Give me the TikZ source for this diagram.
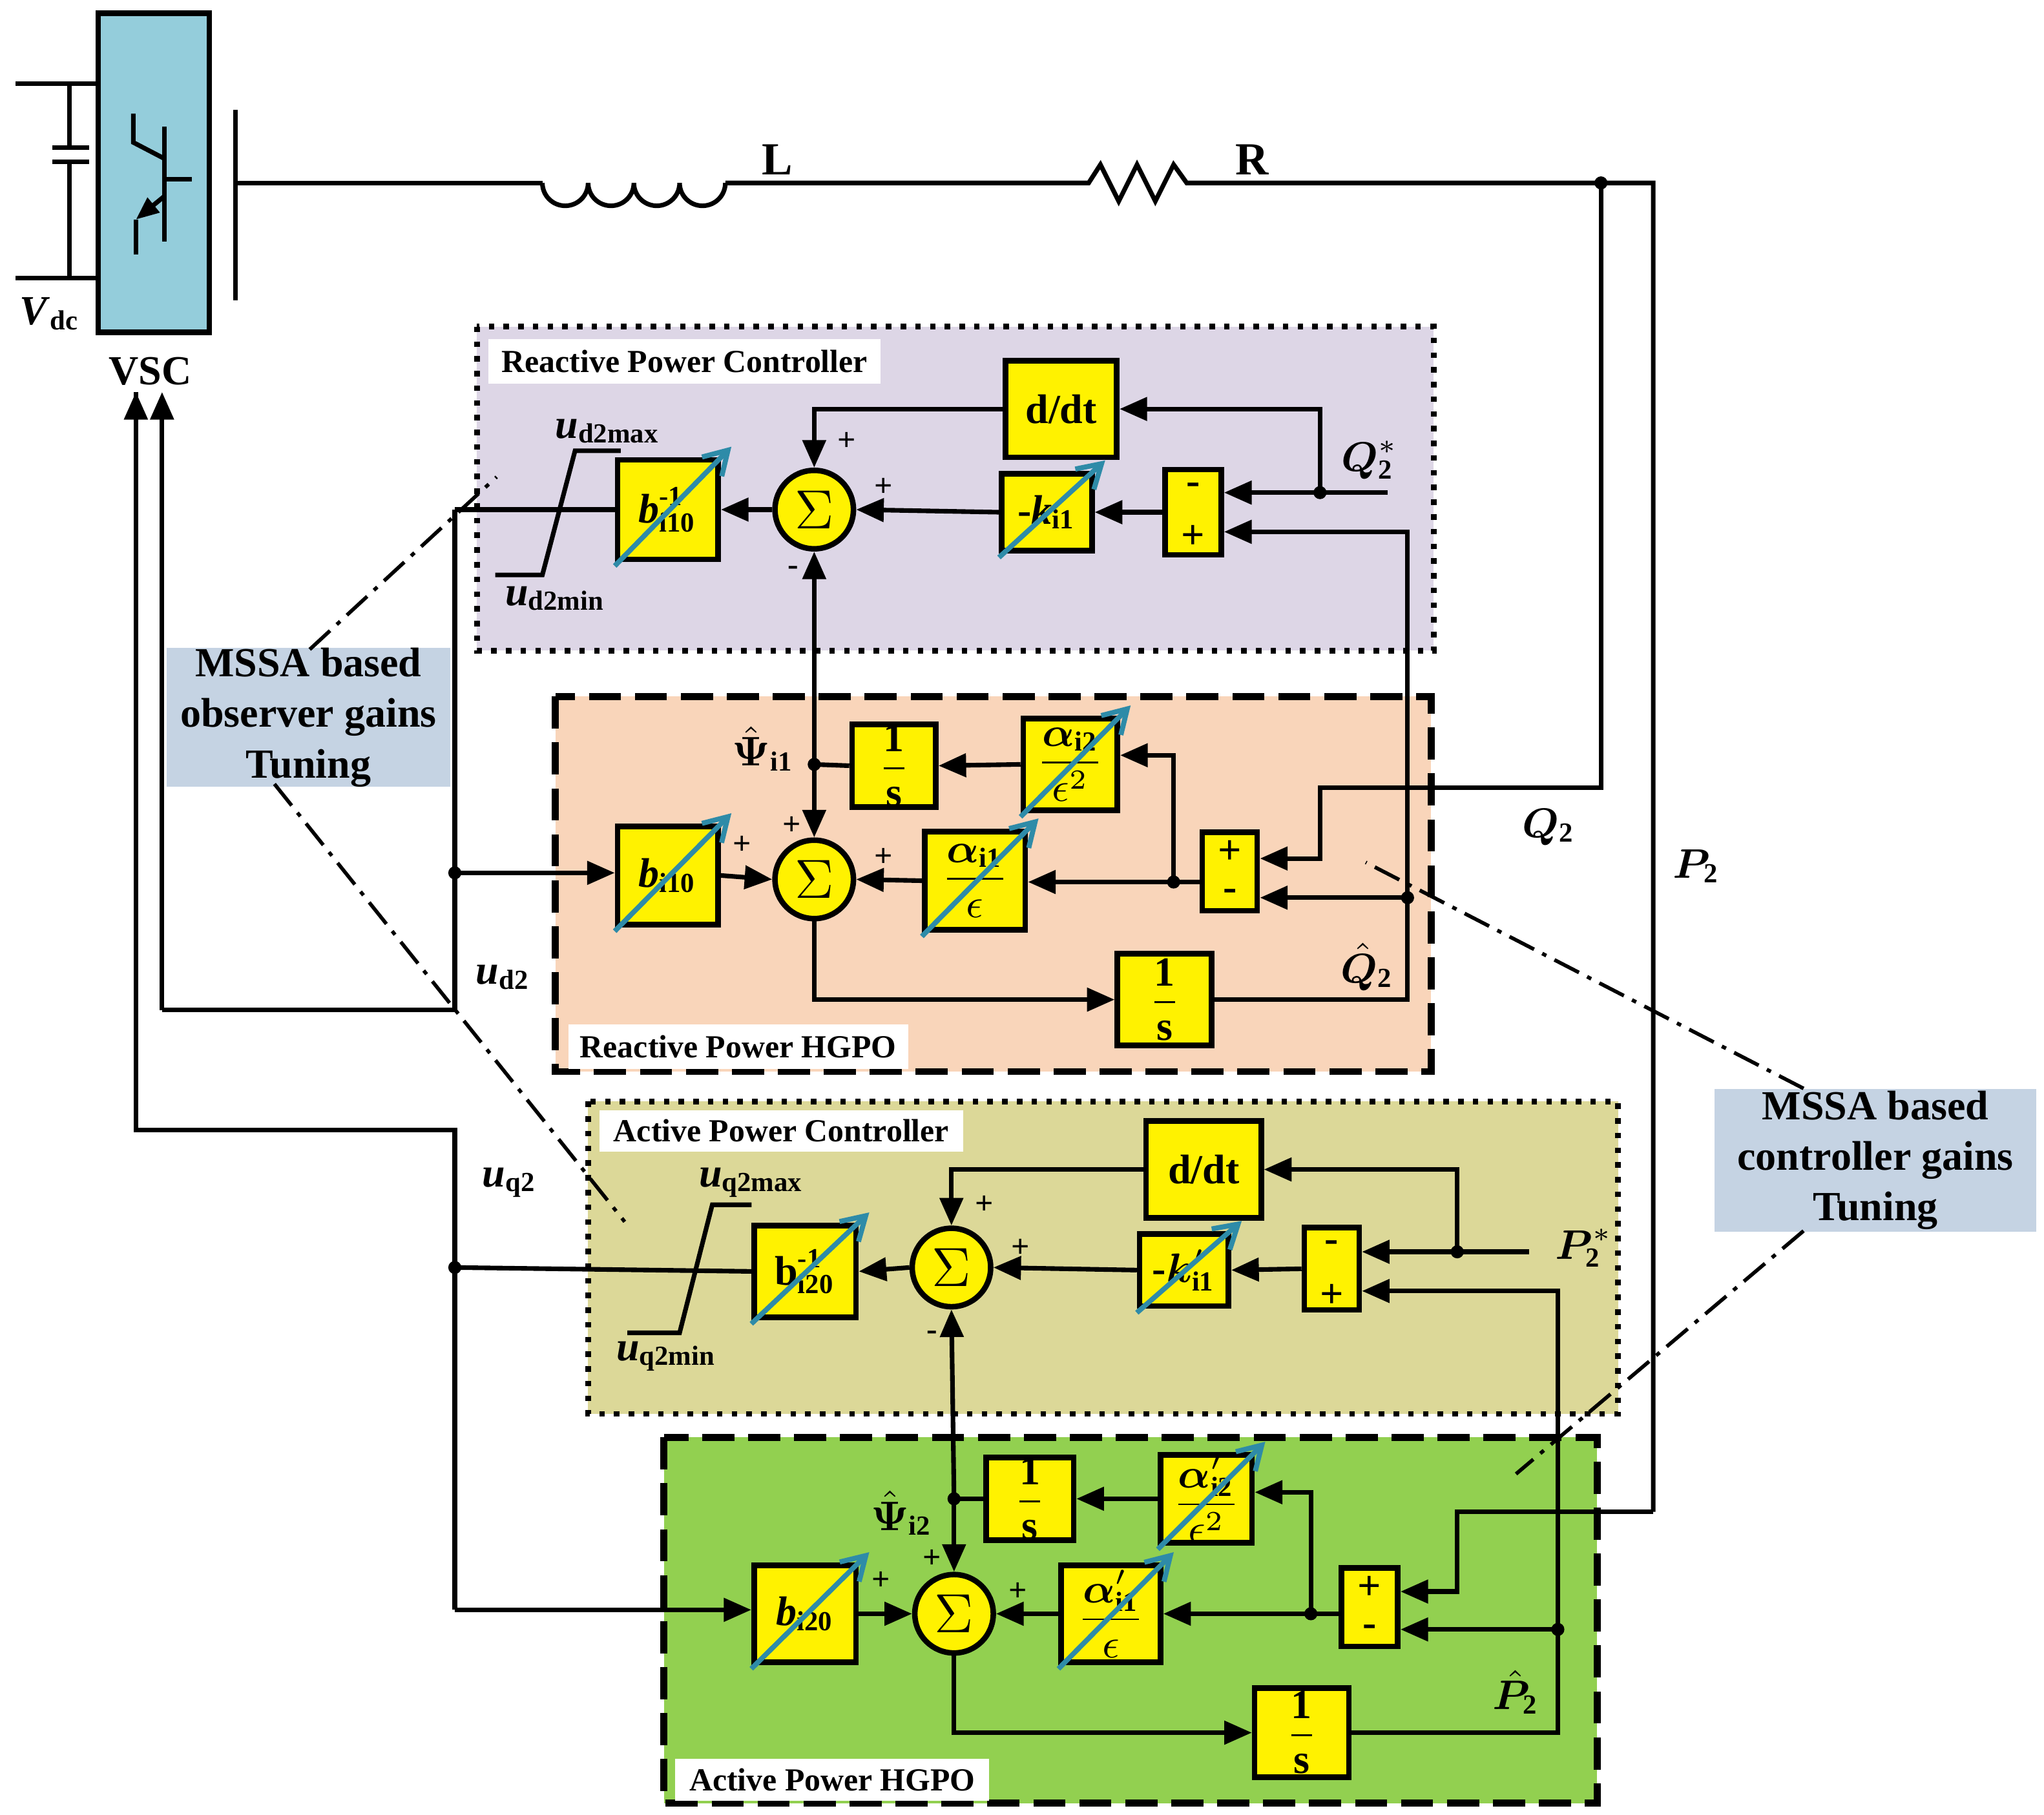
\documentclass[tikz,border=0pt]{standalone}
\usepackage{amsmath,bm}
\usepackage{fontspec}
\setmainfont{Liberation Serif}
\usetikzlibrary{arrows.meta,calc}
\definecolor{vsc}{HTML}{94CDDB}
\definecolor{rpc}{HTML}{DDD6E6}
\definecolor{rph}{HTML}{F9D5BA}
\definecolor{apc}{HTML}{DCD898}
\definecolor{aph}{HTML}{92D050}
\definecolor{mssa}{HTML}{C5D3E3}
\definecolor{tun}{HTML}{2E8BA8}
\begin{document}
\begin{tikzpicture}[x=0.01cm,y=-0.01cm,line width=1pt,
  >={Triangle[length=6pt,width=5pt]},
  blk/.style={draw,fill=yellow,line width=1.2pt,inner sep=0pt,font=\fontsize{9}{10}\bfseries},
  sm/.style={draw,fill=yellow,circle,line width=1.2pt,minimum size=0.6cm,inner sep=0pt,font=\fontsize{12}{12}\selectfont},
  tune/.style={draw=tun,line width=1.1pt,-{Straight Barb[length=5pt,width=6pt]}},
  lab/.style={font=\fontsize{9}{10}\bfseries},
  slab/.style={font=\fontsize{7}{8}\bfseries},
  boxlab/.style={fill=white,inner sep=2pt,font=\fontsize{7}{8}\bfseries},
  dd/.style={line width=0.8pt,dash pattern=on 6pt off 2pt on 1pt off 2pt}]
\useasboundingbox (0,0) rectangle (1564,1389);
% ---- background boxes
\draw[fill=rpc,line width=1.2pt,dotted] (365,250) rectangle (1097,498);
\draw[fill=rph,line width=1.5pt,dash pattern=on 7pt off 3pt] (425,533) rectangle (1095,820);
\draw[fill=apc,line width=1.2pt,dotted] (450,843) rectangle (1238,1082);
\draw[fill=aph,line width=1.5pt,dash pattern=on 7pt off 3pt] (508,1100) rectangle (1222,1380);
\node[boxlab,anchor=north west,minimum width=3cm,minimum height=0.34cm] (t1) at (372,258) {Reactive Power Controller};
\node[boxlab,anchor=south west,minimum width=2.6cm,minimum height=0.34cm] (t2) at (433,820) {Reactive Power HGPO};
\node[boxlab,anchor=north west,minimum width=2.78cm,minimum height=0.3cm] (t3) at (457,848) {Active Power Controller};
\node[boxlab,anchor=south west,minimum width=2.4cm,minimum height=0.32cm] (t4) at (515,1380) {Active Power HGPO};
% ---- VSC
\node[draw,fill=vsc,line width=1.2pt,minimum width=0.85cm,minimum height=2.44cm,anchor=north west] (vsc) at (73,8) {};
\draw (12,64) -- (73,64) (12,213) -- (73,213);
\draw (53,64) -- (53,113) (40,113) -- (68,113) (40,124) -- (68,124) (53,124) -- (53,213);
\draw (102,87) -- (102,109) -- (125,121);
\draw (126,97) -- (126,185);
\draw (126,137) -- (147,137);
\draw[-{Triangle[length=5pt,width=4pt]}] (126,150) -- (104,168);
\draw (104,168) -- (104,195);
\node[font=\fontsize{9}{10}\bfseries] (vdc) at (38,240) {\textit{V}\textsubscript{dc}};
\node[lab] (vsct) at (115,284) {VSC};
% ---- line
\draw (180,84) -- (180,230);
\coordinate (jq) at (1225,140);
\draw (180,140) -- (415,140);
\draw (415,140) arc(180:0:17.5) arc(180:0:17.5) arc(180:0:17.5) arc(180:0:17.5);
\draw (555,140) -- (833,140) -- (842,126) -- (856,154) -- (870,126) -- (884,154) -- (898,126) -- (908,140) -- (1265,140) -- (1265,1157);
\fill (jq) circle (5);
\node[lab,font=\fontsize{10}{10}\bfseries] (Lt) at (595,122) {L};
\node[lab,font=\fontsize{10}{10}\bfseries] (Rt) at (958,122) {R};
% ---- Reactive controller blocks
\node[blk,minimum width=0.85cm,minimum height=0.74cm] (ddt1) at (812,313) {d/dt};
\node[sm] (sum1) at (623,390) {$\Sigma$};
\node[blk,minimum width=0.77cm,minimum height=0.76cm] (binv1) at (511,390) {\textit{b}$^{\textbf{-1}}_{\textbf{i10}}$};
\node[blk,minimum width=0.69cm,minimum height=0.59cm] (k1) at (801,392) {-\textit{k}\textsubscript{i1}};
\node[blk,minimum width=0.43cm,minimum height=0.65cm] (mp1) at (913,392) {};
\node[lab] at (913,374) {-}; \node[lab] at (913,411) {+};
% ---- Reactive HGPO
\node[blk,minimum width=0.64cm,minimum height=0.62cm] (one1) at (684,586) {$\displaystyle\frac{\textbf{1}}{\textbf{s}}$};
\node[blk,minimum width=0.72cm,minimum height=0.70cm] (a2) at (819,585) {$\displaystyle\frac{\bm{\alpha}_{\textbf{i2}}}{\epsilon^{2}}$};
\node[blk,minimum width=0.77cm,minimum height=0.75cm] (bi10) at (511,670) {\textit{b}\textsubscript{i10}};
\node[sm] (sum2) at (623,673) {$\Sigma$};
\node[blk,minimum width=0.77cm,minimum height=0.75cm] (a1) at (746,674) {$\displaystyle\frac{\bm{\alpha}_{\textbf{i1}}}{\epsilon}$};
\node[blk,minimum width=0.42cm,minimum height=0.60cm] (pm1) at (941,667) {};
\node[lab] at (941,652) {+}; \node[lab] at (941,685) {-};
\node[blk,minimum width=0.72cm,minimum height=0.70cm] (one2) at (891,765) {$\displaystyle\frac{\textbf{1}}{\textbf{s}}$};
% ---- Active controller
\node[blk,minimum width=0.88cm,minimum height=0.74cm] (ddt2) at (921,895) {d/dt};
\node[sm] (sum3) at (728,970) {$\Sigma$};
\node[blk,minimum width=0.78cm,minimum height=0.70cm] (binv2) at (616,973) {b$^{\textbf{-1}}_{\textbf{i20}}$};
\node[blk,minimum width=0.68cm,minimum height=0.55cm] (k2) at (906,972) {-$\bm{k}'_{\textbf{i1}}$};
\node[blk,minimum width=0.42cm,minimum height=0.63cm] (mp2) at (1019,971) {};
\node[lab] at (1019,954) {-}; \node[lab] at (1019,992) {+};
% ---- Active HGPO
\node[blk,minimum width=0.67cm,minimum height=0.63cm] (one3) at (788,1147) {$\displaystyle\frac{\textbf{1}}{\textbf{s}}$};
\node[blk,minimum width=0.70cm,minimum height=0.67cm] (a3) at (923,1147) {$\displaystyle\frac{\bm{\alpha}'_{\textbf{i2}}}{\epsilon^{2}}$};
\node[blk,minimum width=0.78cm,minimum height=0.74cm] (bi20) at (616,1235) {\textit{b}\textsubscript{i20}};
\node[sm] (sum4) at (730,1235) {$\Sigma$};
\node[blk,minimum width=0.76cm,minimum height=0.74cm] (a4) at (850,1235) {$\displaystyle\frac{\bm{\alpha}'_{\textbf{i1}}}{\epsilon}$};
\node[blk,minimum width=0.43cm,minimum height=0.60cm] (pm2) at (1048,1230) {};
\node[lab] at (1048,1215) {+}; \node[lab] at (1048,1248) {-};
\node[blk,minimum width=0.72cm,minimum height=0.68cm] (one4) at (996,1326) {$\displaystyle\frac{\textbf{1}}{\textbf{s}}$};
% ---- tuning arrows
\foreach \n in {binv1,k1,a2,bi10,a1,binv2,k2,a3,bi20,a4}
  \draw[tune] ($(\n.south west)+(0,3)$) -- ($(\n.north east)+(8,-8)$);
% ---- reactive controller connections
\coordinate (dq1) at (1010,377);
\coordinate (qs) at (1062,377);
\draw[->] (qs) -- (mp1.east |- dq1);
\fill (dq1) circle (5);
\draw[->] (dq1) |- (ddt1.east);
\draw[->] (ddt1.west) -| (sum1.north);
\draw[->] (mp1.west) -- (k1.east);
\draw[->] (k1.west) -- (sum1.east);
\draw[->] (sum1.west) -- (binv1.east);
\coordinate (ud) at (348,390);
\draw (binv1.west) -- (ud);
\draw (379,440) -- (415,440) -- (440,345) -- (475,345);
\coordinate (q2h) at (1077,687);
\draw[->] (q2h) -- (1077,407) -- (mp1.east |- 0,407);
\node[slab] at (648,338) {+}; \node[slab] at (676,373) {+}; \node[slab] at (607,437) {-};
% ---- psi1
\coordinate (psi1) at (623,585);
\draw[->] (psi1) -- (sum1.south);
\draw[->] (psi1) -- (sum2.north);
\fill (psi1) circle (5);
\draw (one1.west) -- (psi1);
\draw[->] (a2.west) -- (one1.east);
\coordinate (d2) at (898,675);
\draw[->] (d2) |- (a2.east |- 0,578);
\draw[->] (pm1.west |- d2) -- (a1.east |- d2);
\fill (d2) circle (5);
\draw[->] (a1.west) -- (sum2.east);
\draw[->] (bi10.east) -- (sum2.west);
\draw[->] (sum2.south) |- (one2.west);
\draw (one2.east) -| (q2h);
\draw[->] (q2h) -- (pm1.east |- q2h);
\fill (q2h) circle (5);
\draw[->] (jq) -- (1225,603) -- (1010,603) -- (1010,657) -- (pm1.east |- 0,657);
\node[slab] at (606,632) {+}; \node[slab] at (568,647) {+}; \node[slab] at (676,656) {+};
% ---- u_d2 wiring
\coordinate (jd) at (348,668);
\draw (ud) -- (348,773) -- (124,773);
\draw[->] (124,773) -- (124,300);
\draw[->] (jd) -- (bi10.west |- jd);
\fill (jd) circle (5);
% ---- active controller connections
\coordinate (dp) at (1115,958);
\coordinate (ps) at (1170,958);
\draw[->] (ps) -- (mp2.east |- dp);
\fill (dp) circle (5);
\draw[->] (dp) |- (ddt2.east);
\draw[->] (ddt2.west) -| (sum3.north);
\draw[->] (mp2.west) -- (k2.east);
\draw[->] (k2.west) -- (sum3.east);
\draw[->] (sum3.west) -- (binv2.east);
\coordinate (uq) at (348,970);
\draw (binv2.west) -- (uq);
\draw (480,1020) -- (520,1020) -- (545,922) -- (575,922);
\coordinate (p2h) at (1192,1247);
\draw[->] (p2h) -- (1192,988) -- (mp2.east |- 0,988);
\node[slab] at (753,922) {+}; \node[slab] at (781,955) {+}; \node[slab] at (713,1022) {-};
\draw (104,300) -- (104,865) -- (348,865) -- (348,1232);
\draw[->] (104,320) -- (104,300);
\fill (uq) circle (5);
\draw[->] (348,1232) -- (bi20.west |- 0,1232);
% ---- psi2
\coordinate (psi2) at (730,1147);
\draw[->] (psi2) -- (sum3.south);
\draw[->] (psi2) -- (sum4.north);
\fill (psi2) circle (5);
\draw (one3.west) -- (psi2);
\draw[->] (a3.west) -- (one3.east);
\coordinate (d4) at (1003,1235);
\draw[->] (d4) |- (a3.east |- 0,1142);
\draw[->] (pm2.west |- d4) -- (a4.east |- d4);
\fill (d4) circle (5);
\draw[->] (a4.west) -- (sum4.east);
\draw[->] (bi20.east) -- (sum4.west);
\draw[->] (sum4.south) |- (one4.west);
\draw (one4.east) -| (p2h);
\draw[->] (p2h) -- (pm2.east |- p2h);
\fill (p2h) circle (5);
\draw[->] (1265,1157) -- (1115,1157) -- (1115,1218) -- (pm2.east |- 0,1218);
\node[slab] at (713,1193) {+}; \node[slab] at (674,1210) {+}; \node[slab] at (779,1218) {+};
% ---- labels
\node[lab] at (465,330) {\textit{u}\textsubscript{d2max}};
\node[lab] at (425,458) {\textit{u}\textsubscript{d2min}};
\node[lab] at (575,905) {\textit{u}\textsubscript{q2max}};
\node[lab] at (510,1038) {\textit{u}\textsubscript{q2min}};
\node[lab] at (385,748) {\textit{u}\textsubscript{d2}};
\node[lab] at (390,905) {\textit{u}\textsubscript{q2}};
\node[lab] at (1048,352) {$\bm{Q}^{*}_{\textbf{2}}$};
\node[lab] at (1212,955) {$\bm{P}^{*}_{\textbf{2}}$};
\node[lab] at (1185,633) {$\bm{Q}_{\textbf{2}}$};
\node[lab] at (1298,663) {$\bm{P}_{\textbf{2}}$};
\node[lab] at (1046,740) {$\hat{\bm{Q}}_{\textbf{2}}$};
\node[lab] at (1160,1295) {$\hat{\bm{P}}_{\textbf{2}}$};
\node[lab] at (584,573) {$\hat{\bm{\Psi}}_{\textbf{i1}}$};
\node[lab] at (690,1158) {$\hat{\bm{\Psi}}_{\textbf{i2}}$};
% ---- MSSA
\node[fill=mssa,minimum width=2.17cm,minimum height=1.03cm,align=center,font=\fontsize{9}{11}\bfseries,inner sep=0pt] (mo) at (236,549) {MSSA based\\observer gains\\Tuning};
\node[fill=mssa,minimum width=2.46cm,minimum height=1.09cm,align=center,font=\fontsize{9}{11}\bfseries,inner sep=0pt] (mc) at (1435,888) {MSSA based\\controller gains\\Tuning};
\draw[dd] (237,497) -- (380,365);
\draw[dd] (210,600) -- (478,935);
\draw[dd] (1380,833) -- (1045,660);
\draw[dd] (1380,942) -- (1160,1128);
\end{tikzpicture}
\end{document}
